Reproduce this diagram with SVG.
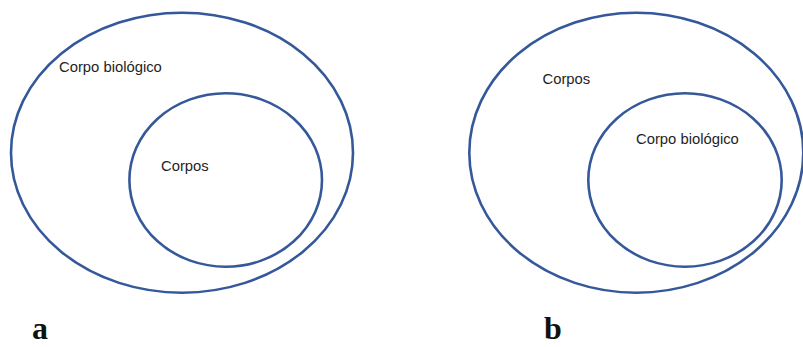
<svg xmlns="http://www.w3.org/2000/svg" width="803" height="347" viewBox="0 0 803 347">
  <style>
    .set { fill: none; stroke: #35589a; stroke-width: 2.6; }
    .lbl { font-family: "Liberation Sans", Arial, sans-serif; font-size: 14.8px; fill: #1e1e1e; }
    .tag { font-family: "Liberation Serif", "Times New Roman", serif; font-size: 32px; font-weight: bold; fill: #111; }
  </style>
  <rect width="803" height="347" fill="#fff"/>

  <!-- Diagram a: Corpos inside Corpo biológico -->
  <g id="a-outer">
    <ellipse class="set" cx="182" cy="152.7" rx="171" ry="140"/>
    <text class="lbl" x="59" y="72">Corpo biológico</text>
  </g>
  <g id="a-inner">
    <ellipse class="set" cx="225.7" cy="180" rx="96.3" ry="86.7"/>
    <text class="lbl" x="161" y="171">Corpos</text>
  </g>
  <text id="a-tag" class="tag" x="32" y="339">a</text>

  <!-- Diagram b: Corpo biológico inside Corpos -->
  <g id="b-outer">
    <ellipse class="set" cx="636.3" cy="152.7" rx="167" ry="140"/>
    <text class="lbl" x="542.5" y="84">Corpos</text>
  </g>
  <g id="b-inner">
    <ellipse class="set" cx="685" cy="180" rx="96.7" ry="86.7"/>
    <text class="lbl" x="636" y="144">Corpo biológico</text>
  </g>
  <text id="b-tag" class="tag" x="544" y="339">b</text>

  <g id="connectors"/>
</svg>
